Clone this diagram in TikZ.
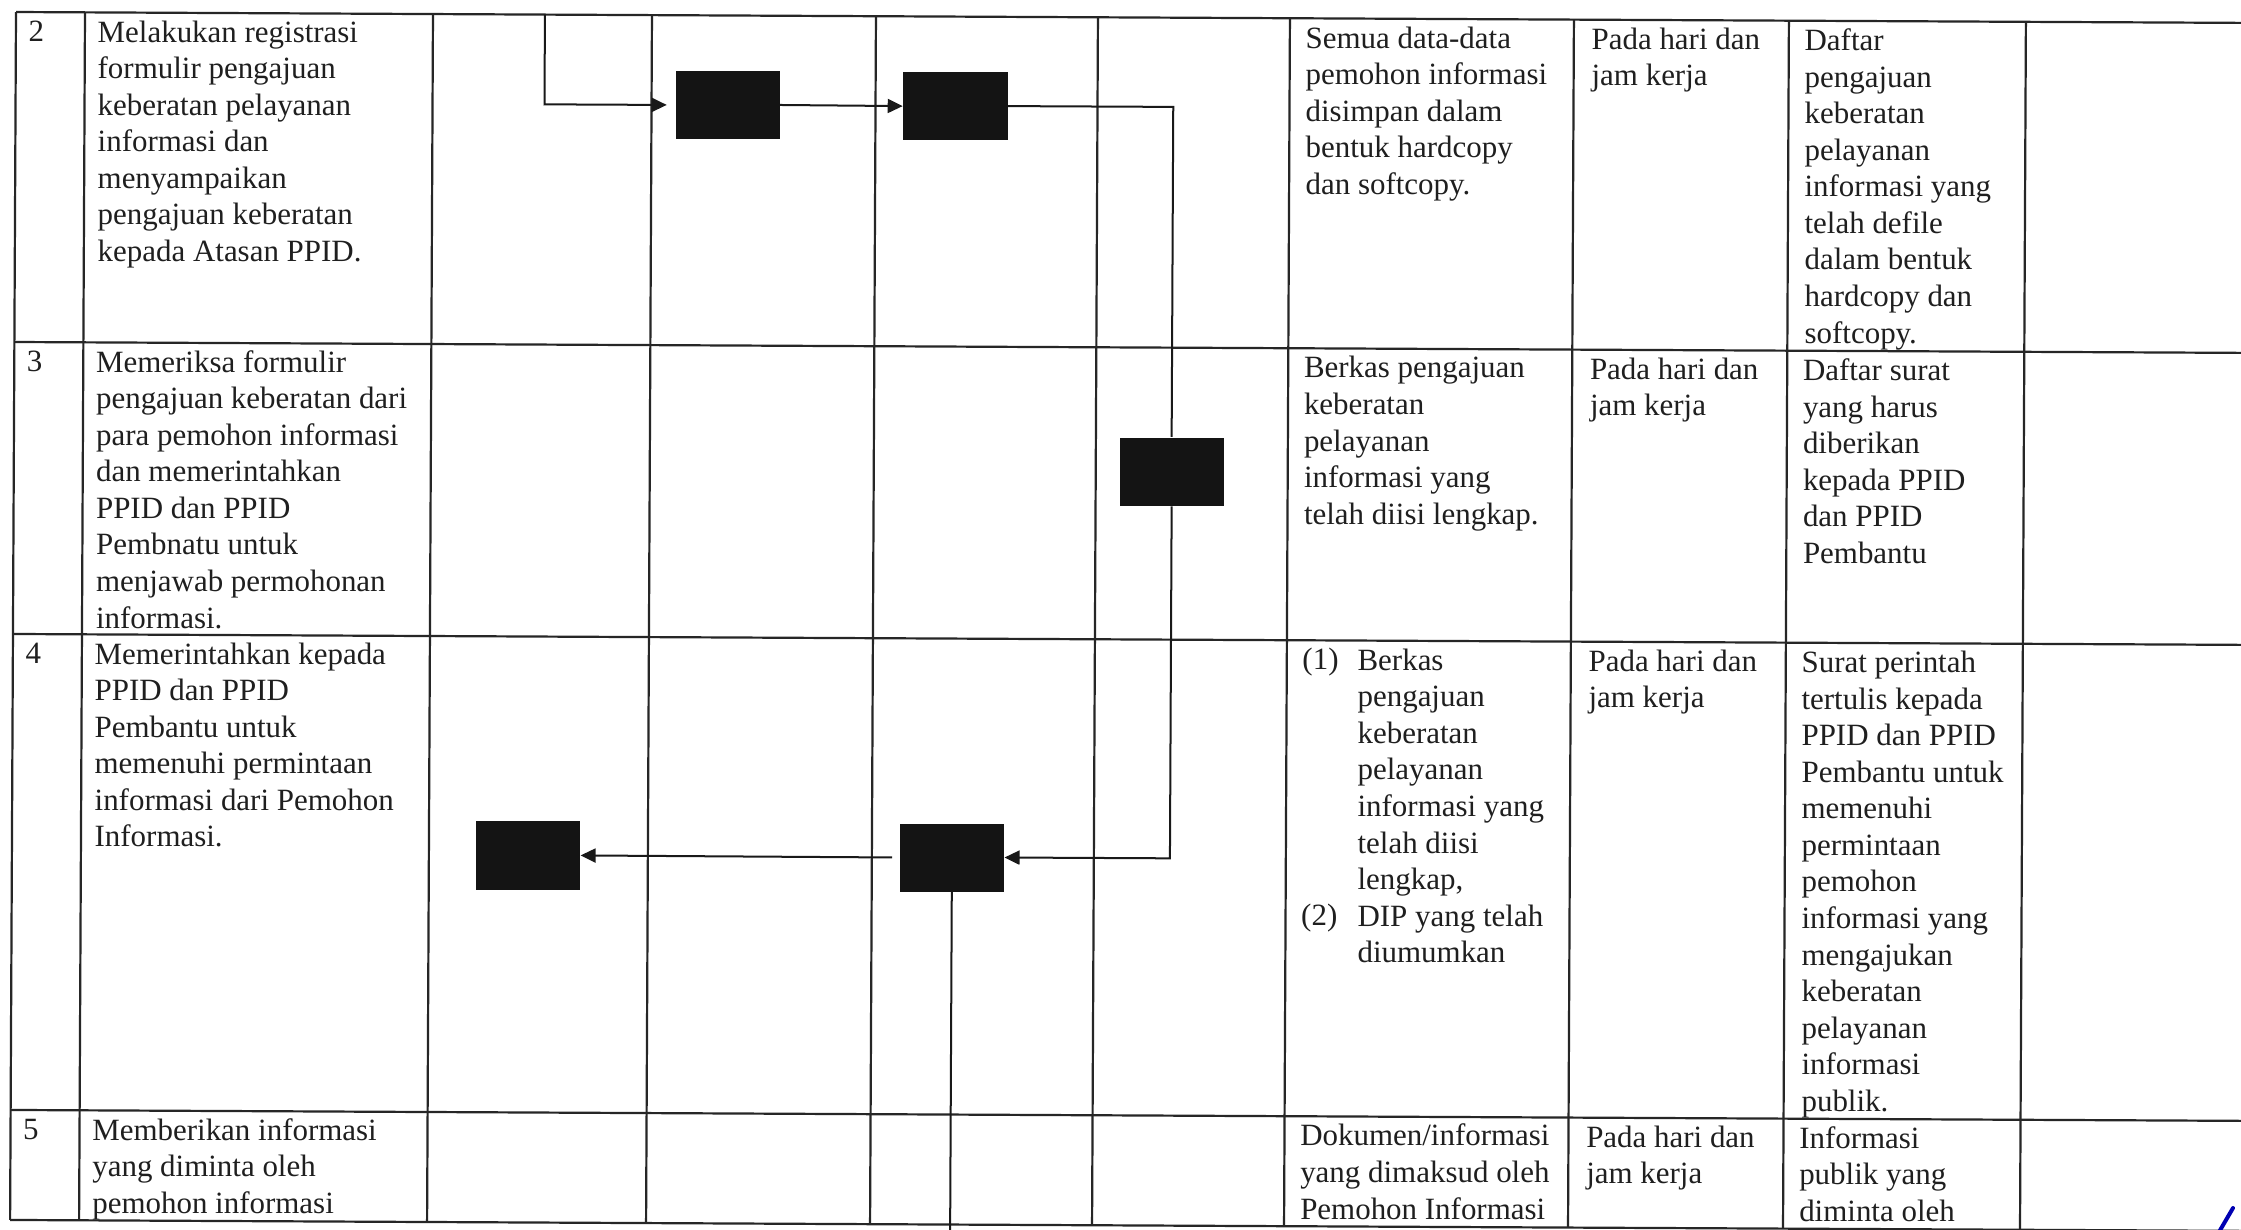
\documentclass[tikz,border=0pt]{standalone}
\usepackage{fontspec}
\setmainfont{Liberation Serif}
\usetikzlibrary{arrows.meta}
\begin{document}
\begin{tikzpicture}[x=0.01cm,y=-0.01cm,
  tline/.style={line width=0.022cm, draw=black!85},
  blk/.style={fill=black!92, draw=none, minimum width=1.04cm, minimum height=0.68cm, inner sep=0pt},
  conn/.style={line width=0.02cm, draw=black!90},
  arr/.style={conn, -{Triangle[length=0.15cm,width=0.14cm]}},
  cell/.style={anchor=north west, inner sep=0pt, align=left, font=\fontsize{8.8}{10.4}\selectfont, text=black!88},
  num/.style={anchor=base west, inner sep=0pt, font=\fontsize{8.8}{10.4}\selectfont, text=black!88}]
\useasboundingbox (0,0) rectangle (2241,1229);
\fill[white] (0,0) rectangle (2241,1229);
\begin{scope}[rotate around={-0.28:(16,12)}]
% table rules
\foreach \y in {12,342,634,1110,1220}
  \draw[tline] (16,\y) -- (2320,\y);
\foreach \x in {16,85,433,652,876,1098,1290,1574,1789,2026}
  \draw[tline] (\x,12) -- (\x,1220);
% numbers
\node[num] (n2) at (28,41) {2};
\node[num] (n3) at (28,371) {3};
\node[num] (n4) at (28,663) {4};
\node[num] (n5) at (28,1139) {5};
% descriptions
\node[cell] (d2) at (97,15.4) {\strut Melakukan registrasi\\formulir pengajuan\\keberatan pelayanan\\informasi dan\\menyampaikan\\pengajuan keberatan\\kepada Atasan PPID.};
\node[cell] (d3) at (97,345.4) {\strut Memeriksa formulir\\pengajuan keberatan dari\\para pemohon informasi\\dan memerintahkan\\PPID dan PPID\\Pembnatu untuk\\menjawab permohonan\\informasi.};
\node[cell] (d4) at (97,637.4) {\strut Memerintahkan kepada\\PPID dan PPID\\Pembantu untuk\\memenuhi permintaan\\informasi dari Pemohon\\Informasi.};
\node[cell] (d5) at (97,1113.4) {\strut Memberikan informasi\\yang diminta oleh\\pemohon informasi};
% requirements
\node[cell] (q2) at (1305,15.4) {\strut Semua data-data\\pemohon informasi\\disimpan dalam\\bentuk hardcopy\\dan softcopy.};
\node[cell] (q3) at (1305,345.4) {\strut Berkas pengajuan\\keberatan\\pelayanan\\informasi yang\\telah diisi lengkap.};
\node[num] (q4a) at (1305,663) {(1)};
\node[num] (q4b) at (1305,918.9) {(2)};
\node[cell] (q4) at (1360,637.4) {\strut Berkas\\pengajuan\\keberatan\\pelayanan\\informasi yang\\telah diisi\\lengkap,\\DIP yang telah\\diumumkan};
\node[cell] (q5) at (1305,1113.4) {\strut Dokumen/informasi\\yang dimaksud oleh\\Pemohon Informasi};
% time
\node[cell] (t2) at (1591,15.4) {\strut Pada hari dan\\jam kerja};
\node[cell] (t3) at (1591,345.4) {\strut Pada hari dan\\jam kerja};
\node[cell] (t4) at (1591,637.4) {\strut Pada hari dan\\jam kerja};
\node[cell] (t5) at (1591,1113.4) {\strut Pada hari dan\\jam kerja};
% outputs
\node[cell] (o2) at (1804,15.4) {\strut Daftar\\pengajuan\\keberatan\\pelayanan\\informasi yang\\telah defile\\dalam bentuk\\hardcopy dan\\softcopy.};
\node[cell] (o3) at (1804,345.4) {\strut Daftar surat\\yang harus\\diberikan\\kepada PPID\\dan PPID\\Pembantu};
\node[cell] (o4) at (1804,637.4) {\strut Surat perintah\\tertulis kepada\\PPID dan PPID\\Pembantu untuk\\memenuhi\\permintaan\\pemohon\\informasi yang\\mengajukan\\keberatan\\pelayanan\\informasi\\publik.};
\node[cell] (o5) at (1804,1113.4) {\strut Informasi\\publik yang\\diminta oleh};
% flow boxes
\node[blk] (B1) at (728,101.5) {};
\node[blk] (B2) at (956,101.5) {};
\node[blk] (B3) at (1174,466) {};
\node[blk] (B4) at (532,853) {};
\node[blk] (B5) at (956,853) {};
\coordinate (c0) at (545,12);
\coordinate (cend) at (956,1260);
\draw[arr, shorten >=0.08cm] (c0) |- (B1.west);
\draw[arr] (B1.east) -- (B2.west);
\draw[conn] (B2.east) -| (B3.north);
\draw[arr] (B3.south) |- (B5.east);
\draw[arr, shorten <=0.07cm] (B5.west) -- (B4.east);
\draw[conn] (B5.south) -- (B5.south |- cend);
\end{scope}
% blue pen mark
\draw[blue!70!black, line width=0.04cm, line cap=round] (2219,1232) -- (2233,1208);
\end{tikzpicture}
\end{document}
